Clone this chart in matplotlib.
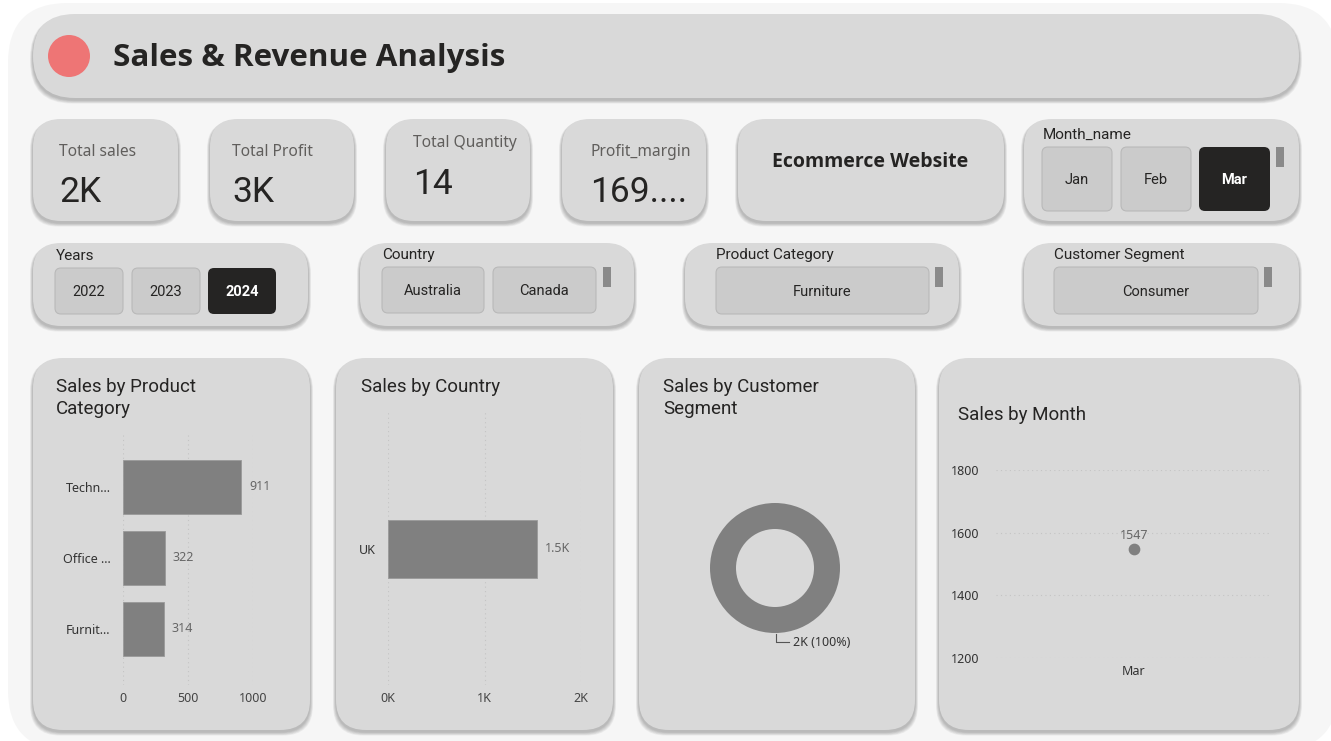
import matplotlib
matplotlib.use("Agg")
import matplotlib.pyplot as plt
from matplotlib.patches import FancyBboxPatch, Circle, Rectangle

# ---- data ----
kpi_labels = ["Total sales", "Total Profit", "Total Quantity", "Profit_margin"]
kpi_values = ["2K", "3K", "14", "169...."]
months = ["Jan", "Feb", "Mar"]
years = ["2022", "2023", "2024"]
countries = ["Australia", "Canada"]

cat_names = ["Furnit...", "Office ...", "Techn..."]
cat_sales = [314, 322, 911]
country_names = ["UK"]
country_sales = [1547]
segment_names = ["Consumer"]
segment_sales = [1547]
month_names = ["Mar"]
month_sales = [1547]

W, H = 1331, 741
CARD = "#d9d9d9"
DARK = "#252423"
BAR = "#808080"
DIN = "Roboto"
SEG = "Noto Sans"

fig = plt.figure(figsize=(W / 100, H / 100), dpi=100)
fig.patch.set_facecolor("white")
bg = fig.add_axes([0, 0, 1, 1])
bg.set_xlim(0, W)
bg.set_ylim(H, 0)
bg.axis("off")


def rbox(x0, y0, x1, y1, r, fc, ec="none", lw=0, z=1):
    p = FancyBboxPatch((x0, y0), x1 - x0, y1 - y0,
                       boxstyle="round,pad=0,rounding_size=%s" % r,
                       fc=fc, ec=ec, lw=lw, zorder=z)
    bg.add_patch(p)


def card(x0, y0, x1, y1, r=30):
    # soft shadow
    for i in range(6, 0, -1):
        rbox(x0 - i * 0.5, y0 + 2, x1 + i * 0.5, y1 + 2 + i * 0.6, r,
             fc=(0, 0, 0, 0.045), z=1)
    rbox(x0, y0, x1, y1, r, CARD, z=2)


def button(x0, y0, x1, y1, text, on=False):
    cy = (y0 + y1) / 2 + 1
    if on:
        rbox(x0, y0, x1, y1, 6, DARK, z=3)
        bg.text((x0 + x1) / 2, cy, text, color="white",
                fontsize=10.5, fontweight="bold", family=DIN,
                ha="center", va="center", zorder=4)
    else:
        rbox(x0, y0, x1, y1, 6, "#cbcbcb", ec="#b9b9b9", lw=0.8, z=3)
        bg.text((x0 + x1) / 2, cy, text, color=DARK,
                fontsize=10.5, family=DIN, ha="center", va="center", zorder=4)


def scroll(x, y0, y1):
    bg.add_patch(Rectangle((x, y0), 8, y1 - y0, fc="#8a8a8a", zorder=4))


# canvas
rbox(8, 3, 1338, 750, 60, "#f6f6f6", z=0)

# title bar
card(33, 14, 1299, 98, r=42)
bg.add_patch(Circle((69, 56), 21, fc="#ee7575", zorder=3))
bg.text(113, 58, "Sales & Revenue Analysis", fontsize=22.6, fontweight="bold",
        family="Open Sans", color=DARK, va="center", ha="left", zorder=3)

# KPI cards
kpi_x = [(33, 178), (210, 354), (386, 530), (562, 706)]
kpi_tx = [59, 232, 413, 590]
kpi_ly = [152, 152, 143, 152]
kpi_vy = [192, 192, 184, 192]
for (x0, x1), tx, ly, vy, lab, val in zip(kpi_x, kpi_tx, kpi_ly, kpi_vy,
                                         kpi_labels, kpi_values):
    card(x0, 119, x1, 221, r=28)
    bg.text(tx, ly, lab, fontsize=11.2, family=SEG, color="#605e5c",
            va="center", ha="left", zorder=3)
    bg.text(tx, vy, val, fontsize=25.5, family=DIN, color=DARK,
            va="center", ha="left", zorder=3)

card(738, 119, 1004, 221, r=28)
bg.text(870, 162, "Ecommerce Website", fontsize=14, fontweight="bold",
        family="Open Sans", color=DARK, va="center", ha="center", zorder=3)

# month slicer
card(1024, 119, 1299, 221, r=28)
bg.text(1043, 135, "Month_name", fontsize=11, family=DIN, color=DARK,
        va="center", ha="left", zorder=3)
for (x0, x1), m in zip([(1042, 1112), (1121, 1191), (1199, 1270)], months):
    button(x0, 147, x1, 211, m, on=(m == "Mar"))
scroll(1276, 147, 167)

# row of slicers
card(33, 243, 308, 326, r=28)
bg.text(56, 256, "Years", fontsize=11, family=DIN, color=DARK,
        va="center", ha="left", zorder=3)
for (x0, x1), y in zip([(55, 123), (132, 200), (208, 276)], years):
    button(x0, 268, x1, 314, y, on=(y == "2024"))

card(360, 243, 634, 326, r=28)
bg.text(382, 255, "Country", fontsize=11, family=DIN, color=DARK,
        va="center", ha="left", zorder=3)
for (x0, x1), c in zip([(382, 484), (493, 596)], countries):
    button(x0, 267, x1, 313, c)
scroll(603, 267, 287)

card(685, 243, 959, 326, r=28)
bg.text(716, 255, "Product Category", fontsize=11, family=DIN, color=DARK,
        va="center", ha="left", zorder=3)
button(716, 267, 929, 314, "Furniture")
scroll(935, 267, 287)

card(1024, 243, 1299, 326, r=28)
bg.text(1054, 255, "Customer Segment", fontsize=11, family=DIN, color=DARK,
        va="center", ha="left", zorder=3)
button(1054, 267, 1258, 314, "Consumer")
scroll(1264, 267, 287)

# bottom cards
card(33, 358, 310, 730, r=30)
card(336, 358, 613, 730, r=30)
card(639, 358, 915, 730, r=30)
card(939, 358, 1299, 730, r=30)
tkw = dict(fontsize=13.5, family=DIN, color=DARK,
           va="center", ha="left", zorder=3)
bg.text(56, 387, "Sales by Product", **tkw)
bg.text(56, 409, "Category", **tkw)
bg.text(361, 387, "Sales by Country", **tkw)
bg.text(663, 387, "Sales by Customer", **tkw)
bg.text(663, 409, "Segment", **tkw)
bg.text(958, 415, "Sales by Month", **tkw)


def px_axes(x0, y0, x1, y1):
    ax = fig.add_axes([x0 / W, 1 - y1 / H, (x1 - x0) / W, (y1 - y0) / H])
    ax.patch.set_alpha(0)
    for s in ax.spines.values():
        s.set_visible(False)
    ax.tick_params(length=0, labelsize=9, labelcolor="#444444")
    return ax


# sales by product category
ax1 = px_axes(123, 432, 253, 685)
pos = list(range(len(cat_names)))
ax1.barh(pos, cat_sales, height=0.76, color=BAR, ec="#9a9a9a", lw=0.6, zorder=2)
ax1.set_xlim(0, 1000)
ax1.set_ylim(-0.79, 2.77)
ax1.set_xticks([0, 500, 1000])
ax1.set_yticks(pos)
ax1.set_yticklabels(cat_names, family=SEG, color="#333333")
ax1.set_xticklabels(["0", "500", "1000"], family=SEG)
ax1.tick_params(axis="x", pad=5)
ax1.tick_params(axis="y", pad=9)
ax1.grid(axis="x", color="#c4c4c4", linestyle=(0, (1, 3)), lw=0.8, zorder=1)
for p, v in zip(pos, cat_sales):
    ax1.annotate(str(v), (v, p), xytext=(8, 0), textcoords="offset pixels",
                 va="center", ha="left", fontsize=9, color="#666666",
                 family=SEG, annotation_clip=False)

# sales by country
ax2 = px_axes(388, 412, 581, 685)
ax2.barh([0], country_sales, height=58 / 273, color=BAR, ec="#9a9a9a",
         lw=0.6, zorder=2)
ax2.set_xlim(0, 2000)
ax2.set_ylim(-0.5, 0.5)
ax2.set_xticks([0, 1000, 2000])
ax2.set_xticklabels(["0K", "1K", "2K"], family=SEG)
ax2.set_yticks([0])
ax2.set_yticklabels(country_names, family=SEG, color="#333333")
ax2.tick_params(axis="x", pad=5)
ax2.tick_params(axis="y", pad=9)
ax2.grid(axis="x", color="#c4c4c4", linestyle=(0, (1, 3)), lw=0.8, zorder=1)
for v in country_sales:
    ax2.annotate("%.1fK" % (v / 1000), (v, 0), xytext=(8, 0),
                 textcoords="offset pixels", va="center", ha="left",
                 fontsize=9, color="#666666", family=SEG,
                 annotation_clip=False)

# sales by customer segment (donut)
ax3 = px_axes(710, 503, 840, 633)
ax3.pie(segment_sales, radius=1, colors=[BAR], startangle=90,
        wedgeprops=dict(width=0.4))
ax3.set_xlim(-1, 1)
ax3.set_ylim(-1, 1)
ax3.set_aspect("equal")
ax3.plot([0.02, 0.02, 0.215], [-1.02, -1.14, -1.14], color="#555555",
         lw=0.8, clip_on=False)
tot = sum(segment_sales)
ax3.text(0.28, -1.14, "%dK (%d%%)" % (round(tot / 1000), 100 * segment_sales[0] / tot),
         fontsize=9, family=SEG, color="#333333", va="center", ha="left")

# sales by month
ax4 = px_axes(996, 470, 1272, 658)
ax4.scatter(range(len(month_names)), month_sales, s=55, color=BAR, zorder=3)
ax4.set_xlim(-0.5, 0.5)
ax4.set_ylim(1200, 1800)
ax4.set_yticks([1200, 1400, 1600, 1800])
ax4.set_yticklabels(["1200", "1400", "1600", "1800"], family=SEG,
                    color="#333333")
ax4.set_xticks(range(len(month_names)))
ax4.set_xticklabels(month_names, family=SEG, color="#333333")
ax4.tick_params(axis="y", pad=12)
ax4.tick_params(axis="x", pad=5)
ax4.grid(axis="y", color="#c4c4c4", linestyle=(0, (1, 3)), lw=0.8, zorder=1)
for i, v in enumerate(month_sales):
    ax4.annotate(str(v), (i, v), xytext=(0, 14), textcoords="offset pixels",
                 ha="center", va="center", fontsize=9, color="#666666",
                 family=SEG)

fig.savefig("out.png", dpi=100)
